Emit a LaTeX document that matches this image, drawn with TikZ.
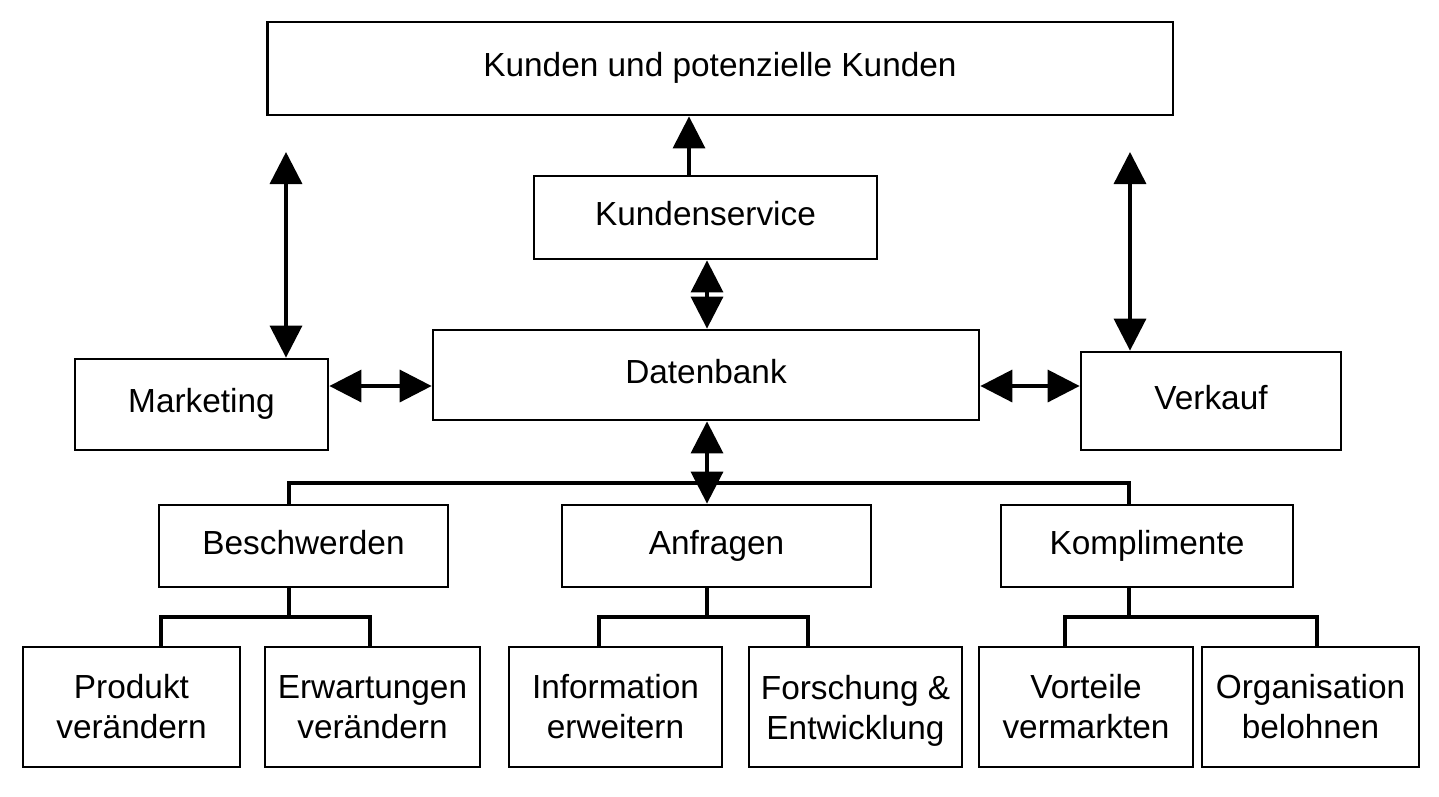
\documentclass[tikz,border=0pt]{standalone}
\usepackage{fontspec}
\setmainfont{Liberation Sans}
\usetikzlibrary{arrows.meta}
\begin{document}
\begin{tikzpicture}[x=0.02cm,y=-0.02cm,
  boxbase/.style={draw, line width=1.6pt, inner sep=0pt, align=center, font=\fontsize{19}{22.8}\selectfont},
  box/.style={boxbase, text height=13.7pt, text depth=4.2pt},
  box2/.style={boxbase},
  link/.style={line width=1.8pt},
  tipA/.tip={Triangle[length=0.64cm,width=0.64cm]},
  dbl/.style={line width=2pt, tipA-tipA},
  sgl/.style={line width=2pt, -tipA}]
\useasboundingbox[fill=white] (0,0) rectangle (1439,796);
% boxes
\node[box, minimum width=18.12cm, minimum height=1.86cm] (kunden) at (720,68.5) {Kunden und potenzielle Kunden};
\node[box, minimum width=6.86cm, minimum height=1.66cm] (ks) at (705.5,217.5) {Kundenservice};
\node[box, minimum width=10.92cm, minimum height=1.80cm] (db) at (706,375) {Datenbank};
\node[box, minimum width=5.06cm, minimum height=1.82cm] (mk) at (201.5,404.5) {Marketing};
\node[box, minimum width=5.20cm, minimum height=1.96cm] (vk) at (1211,401) {Verkauf};
\node[box, minimum width=5.78cm, minimum height=1.64cm] (bes) at (303.5,546) {Beschwerden};
\node[box, minimum width=6.18cm, minimum height=1.64cm] (anf) at (716.5,546) {Anfragen};
\node[box, minimum width=5.84cm, minimum height=1.64cm] (kom) at (1147,546) {Komplimente};
\node[box2, minimum width=4.34cm, minimum height=2.40cm] (p1) at (131.5,707) {Produkt\\verändern};
\node[box2, minimum width=4.30cm, minimum height=2.40cm] (p2) at (372.5,707) {Erwartungen\\verändern};
\node[box2, minimum width=4.26cm, minimum height=2.40cm] (p3) at (615.5,707) {Information\\erweitern};
\node[box2, minimum width=4.26cm, minimum height=2.40cm] (p4) at (855.5,707) {Forschung \&\\\smash{Entwicklung}};
\node[box2, minimum width=4.28cm, minimum height=2.40cm] (p5) at (1086,707) {Vorteile\\vermarkten};
\node[box2, minimum width=4.34cm, minimum height=2.40cm] (p6) at (1310.5,707) {Organisation\\belohnen};
% helper coordinates
\coordinate (xa) at (689,0);
\coordinate (xb) at (707,0);
\coordinate (ya) at (0,386);
\coordinate (mt) at (286,152);
\coordinate (vt) at (1130,152);
\coordinate (bus) at (700,483);
\coordinate (bl) at (289,0);
\coordinate (br) at (1129,0);
\coordinate (sb1) at (289,617);
\coordinate (sb2) at (707,617);
\coordinate (sb3) at (1129,617);
\coordinate (c1) at (161,0);
\coordinate (c2) at (370,0);
\coordinate (c3) at (599,0);
\coordinate (c4) at (808,0);
\coordinate (c5) at (1065,0);
\coordinate (c6) at (1317,0);
% arrows
\draw[sgl] (ks.north -| xa) -- (kunden.south -| xa);
\draw[dbl] (ks.south -| xb) -- (db.north -| xb);
\draw[dbl] (db.south -| xb) -- (anf.north -| xb);
\draw[dbl] (mk.east |- ya) -- (db.west |- ya);
\draw[dbl] (db.east |- ya) -- (vk.west |- ya);
\draw[dbl] (mt) -- (mk.north -| mt);
\draw[dbl] (vt) -- (vk.north -| vt);
% tree lines
\draw[link] (bes.north -| bl) |- (bus) -| (kom.north -| br);
\draw[link] (bes.south -| sb1) -- (sb1);
\draw[link] (p1.north -| c1) |- (sb1) -| (p2.north -| c2);
\draw[link] (anf.south -| sb2) -- (sb2);
\draw[link] (p3.north -| c3) |- (sb2) -| (p4.north -| c4);
\draw[link] (kom.south -| sb3) -- (sb3);
\draw[link] (p5.north -| c5) |- (sb3) -| (p6.north -| c6);
\end{tikzpicture}
\end{document}
